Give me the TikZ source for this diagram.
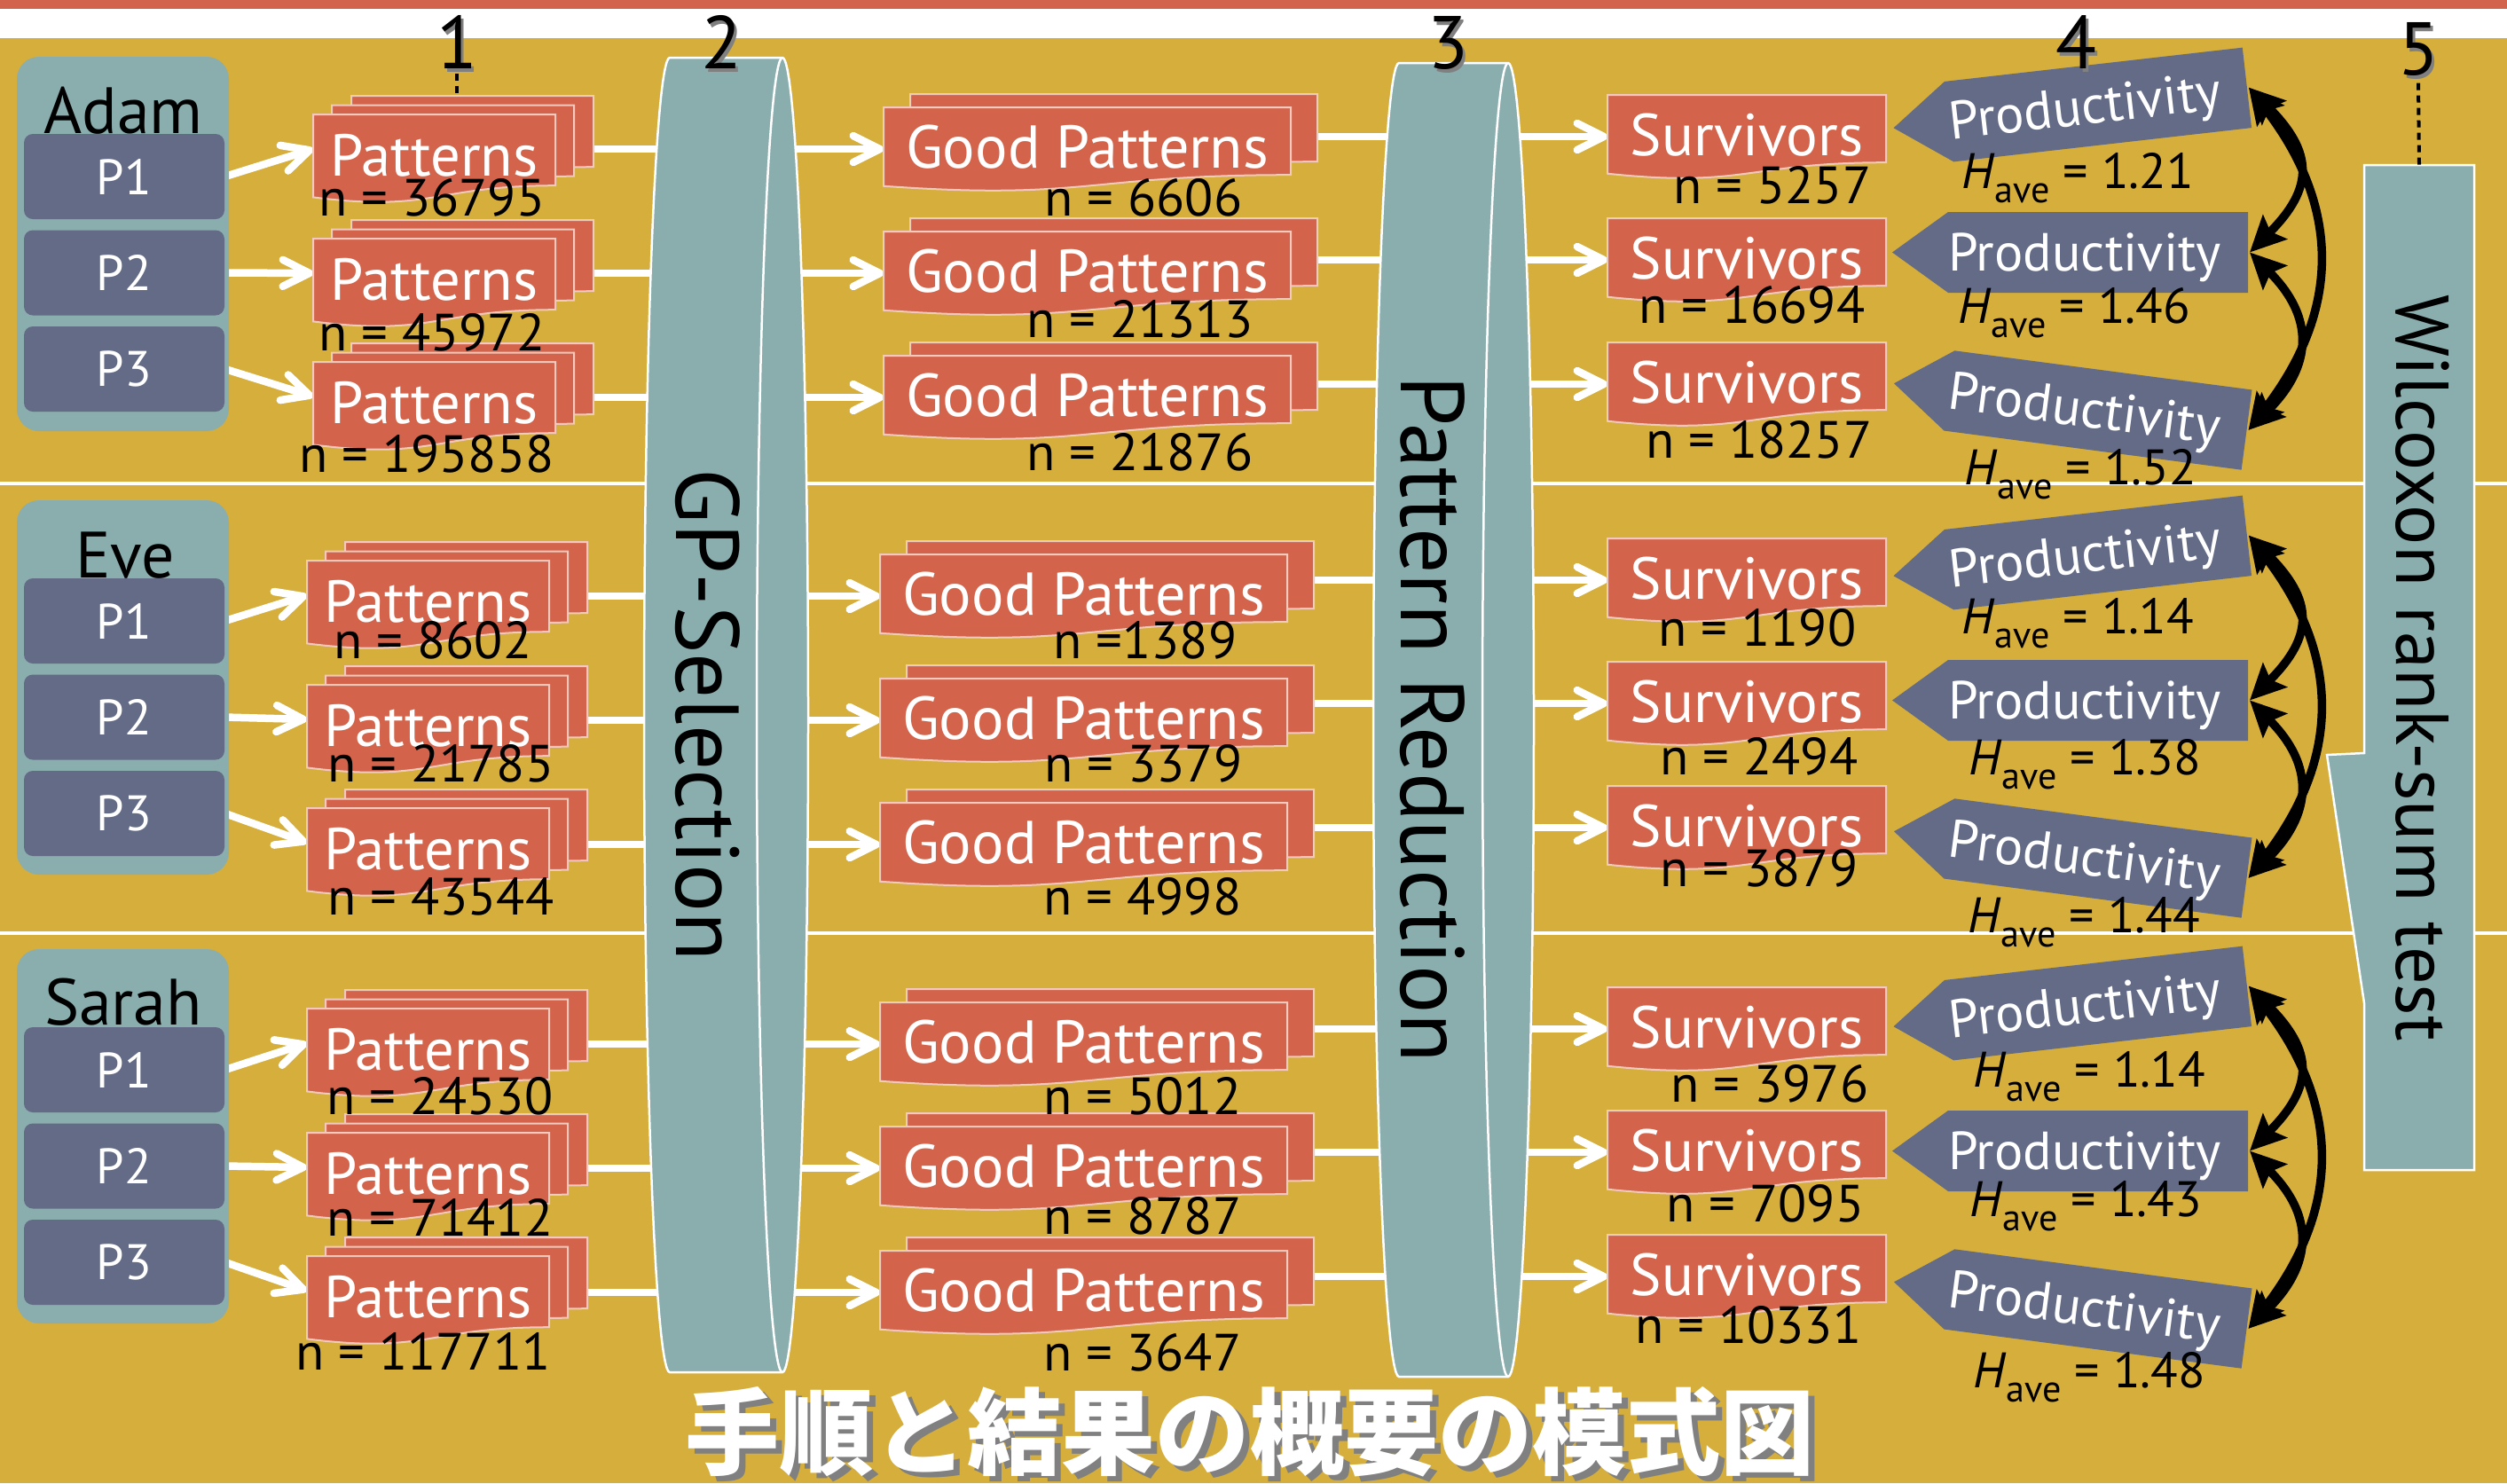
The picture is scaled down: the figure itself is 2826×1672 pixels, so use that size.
\documentclass[tikz,border=0pt]{standalone}
\usepackage{fontspec}
\setmainfont{PT Sans}
\newfontfamily\cjkfont{Noto Sans CJK JP}
\usetikzlibrary{arrows.meta}
\definecolor{gold}{HTML}{D5AE3B}
\definecolor{rust}{HTML}{D3644B}
\definecolor{tealc}{HTML}{8AADAE}
\definecolor{slate}{HTML}{636B86}
\definecolor{docline}{HTML}{F2C9BD}
\definecolor{topred}{HTML}{D2644C}
\definecolor{shade}{HTML}{808080}
\pgfdeclarelayer{bg}
\pgfdeclarelayer{conn}
\pgfsetlayers{bg,conn,main}

\newcommand\docshape[4]{\filldraw[docsty] ({#1},{#2}) -- ({#1+#3},{#2}) -- ({#1+#3},{#2+0.802*#4}) .. controls ({#1+0.5*#3},{#2+0.802*#4}) and ({#1+0.5*#3},{#2+1.107*#4}) .. ({#1},{#2+0.934*#4}) -- cycle;}

\newcommand\PatStack[3]{%
  \docshape{#2+43}{#3-21}{273}{100}%
  \docshape{#2+21}{#3-10.5}{273}{100}%
  \docshape{#2}{#3}{273}{100}%
  \node[lab] (#1) at ({#2+136.5},{#3+69}) {Patterns};%
  \coordinate (#1-in) at ({#2},{#3+39});%
  \coordinate (#1-out) at ({#2+316},{#3+39});%
  \coordinate (#1-top) at ({#2+162},{#3-21});}

\newcommand\GPStack[3]{%
  \docshape{#2+30}{#3-15}{459}{95}%
  \docshape{#2}{#3}{459}{95}%
  \node[lab,font=\fontsize{19.4}{22}\selectfont] (#1) at ({#2+229.5},{#3+68}) {Good Patterns};%
  \coordinate (#1-in) at ({#2},{#3+47});%
  \coordinate (#1-out) at ({#2+489},{#3+33});}

\newcommand\SurvBox[3]{%
  \docshape{#2}{#3}{314}{95}%
  \node[lab] (#1) at ({#2+157},{#3+68}) {Survivors};%
  \coordinate (#1-in) at ({#2},{#3+47});}

\newcommand\ProdArrow[4]{%
  \begin{scope}[shift={(#2,#3)},rotate=#4]
    \fill[slate] (-232,0) -- (-169,-45.5) -- (169,-45.5) -- (169,45.5) -- (-169,45.5) -- cycle;
    \node[plab,transform shape] (#1) at (-15,20.5) {Productivity};
    \coordinate (#1-r) at (171,0);
  \end{scope}}

\newcommand\Have[1]{\textit{H}\raisebox{-0.3em}{\fontsize{12}{12}\selectfont ave} = #1}

\begin{document}
\begin{tikzpicture}[x=0.1mm,y=-0.1mm,
  docsty/.style={fill=rust,draw=docline,line width=0.2mm},
  lab/.style={font=\fontsize{19}{22}\selectfont,text=white,anchor=base,inner sep=0pt},
  nlab/.style={font=\fontsize{16.8}{20}\selectfont,anchor=base,inner sep=0pt},
  hlab/.style={font=\fontsize{16}{19}\selectfont,anchor=base,inner sep=0pt},
  plab/.style={font=\fontsize{17.2}{20}\selectfont,text=white,anchor=base,inner sep=0pt},
  grp/.style={font=\fontsize{21}{24}\selectfont,anchor=base,inner sep=0pt},
  pbox/.style={fill=slate,rounded corners=1mm,minimum width=22.6mm,minimum height=9.6mm,inner sep=0pt,text=white,font=\fontsize{16}{19}\selectfont},
  num/.style={font=\fontsize{24}{28}\selectfont,anchor=base,inner sep=0pt},
  numsh/.style={num,text=shade},
  warrow/.style={draw=white,line width=0.85mm,-{Straight Barb[length=3mm,width=3mm,round]}},
  barrow/.style={draw=black,line width=0.95mm,{Stealth[length=4mm,width=3.8mm,inset=0.7mm]}-{Stealth[length=4mm,width=3.8mm,inset=0.7mm]}},
  cyl/.style={fill=tealc,draw=white,line width=0.25mm},
  vlab/.style={rotate=-90,anchor=base,inner sep=0pt},
  guide/.style={draw=black,line width=0.4mm,dash pattern=on 0.8mm off 0.6mm},
  ttl/.style={font=\cjkfont\bfseries\fontsize{30.2}{34}\selectfont,anchor=base,inner sep=0pt}]
\useasboundingbox (0,0) rectangle (2826,1672);
\begin{pgfonlayer}{bg}
  \fill[gold] (0,43) rectangle (2826,1672);
  \fill[white] (0,10) rectangle (2826,43);
  \fill[topred] (0,0) rectangle (2826,10);
  \draw[white,line width=0.35mm] (0,545) -- (2826,545);
  \draw[white,line width=0.35mm] (0,1052) -- (2826,1052);
\end{pgfonlayer}

% participant groups
\fill[tealc,rounded corners=2.5mm] (19,64) rectangle (258,486);
\node[grp] (adam) at (139,150) {Adam};
\node[pbox] (a-p1) at (140,199) {P1};
\node[pbox] (a-p2) at (140,307.5) {P2};
\node[pbox] (a-p3) at (140,416) {P3};
\fill[tealc,rounded corners=2.5mm] (19,564) rectangle (258,986);
\node[grp] (eve) at (141,651) {Eve};
\node[pbox] (e-p1) at (140,700) {P1};
\node[pbox] (e-p2) at (140,808.5) {P2};
\node[pbox] (e-p3) at (140,917) {P3};
\fill[tealc,rounded corners=2.5mm] (19,1070) rectangle (258,1492);
\node[grp] (sarah) at (139,1155) {Sarah};
\node[pbox] (s-p1) at (140,1206) {P1};
\node[pbox] (s-p2) at (140,1314.5) {P2};
\node[pbox] (s-p3) at (140,1423) {P3};

% pattern stacks
\PatStack{a-pt1}{353}{129}\PatStack{a-pt2}{353}{269}\PatStack{a-pt3}{353}{408}
\PatStack{e-pt1}{346}{632}\PatStack{e-pt2}{346}{772}\PatStack{e-pt3}{346}{911}
\PatStack{s-pt1}{346}{1137}\PatStack{s-pt2}{346}{1277}\PatStack{s-pt3}{346}{1416}

% good patterns
\GPStack{a-gp1}{996}{121}\GPStack{a-gp2}{996}{261}\GPStack{a-gp3}{996}{401}
\GPStack{e-gp1}{992}{625}\GPStack{e-gp2}{992}{765}\GPStack{e-gp3}{992}{905}
\GPStack{s-gp1}{992}{1130}\GPStack{s-gp2}{992}{1270}\GPStack{s-gp3}{992}{1410}

% survivors
\SurvBox{a-sv1}{1812}{107}\SurvBox{a-sv2}{1812}{246}\SurvBox{a-sv3}{1812}{386}
\SurvBox{e-sv1}{1812}{607}\SurvBox{e-sv2}{1812}{746}\SurvBox{e-sv3}{1812}{886}
\SurvBox{s-sv1}{1812}{1113}\SurvBox{s-sv2}{1812}{1252}\SurvBox{s-sv3}{1812}{1392}

% productivity
\ProdArrow{a-pr1}{2365}{118}{6.5}\ProdArrow{a-pr2}{2365}{284.5}{0}\ProdArrow{a-pr3}{2365}{462.5}{-7.5}
\ProdArrow{e-pr1}{2365}{623}{6.5}\ProdArrow{e-pr2}{2365}{789.5}{0}\ProdArrow{e-pr3}{2365}{967.5}{-7.5}
\ProdArrow{s-pr1}{2365}{1131}{6.5}\ProdArrow{s-pr2}{2365}{1297.5}{0}\ProdArrow{s-pr3}{2365}{1475.5}{-7.5}

% white connectors
\begin{pgfonlayer}{conn}
\foreach \g in {a,e,s}{\foreach \i in {1,2,3}{
  \draw[warrow] (\g-p\i.east) -- (\g-pt\i-in);
  \draw[warrow] (\g-pt\i-out |- \g-gp\i-in) -- (\g-gp\i-in);
  \draw[warrow] (\g-gp\i-out |- \g-sv\i-in) -- (\g-sv\i-in);
}}
\end{pgfonlayer}

% cylinders
\filldraw[cyl] (755,65) -- (882,65) .. controls (898,65) and (911,396.7) .. (911,806) .. controls (911,1215.3) and (898,1547) .. (882,1547) -- (755,1547) .. controls (739,1547) and (726,1215.3) .. (726,806) .. controls (726,396.7) and (739,65) .. (755,65) -- cycle;
\draw[white,line width=0.25mm] (882,65) .. controls (866,65) and (853,396.7) .. (853,806) .. controls (853,1215.3) and (866,1547) .. (882,1547);
\node[vlab,font=\fontsize{28.7}{32}\selectfont] (gpsel) at (762,806) {GP-Selection};

\filldraw[cyl] (1577,71) -- (1700,71) .. controls (1716,71) and (1729,402.5) .. (1729,811.5) .. controls (1729,1220.5) and (1716,1552) .. (1700,1552) -- (1577,1552) .. controls (1561,1552) and (1548,1220.5) .. (1548,811.5) .. controls (1548,402.5) and (1561,71) .. (1577,71) -- cycle;
\draw[white,line width=0.25mm] (1700,71) .. controls (1684,71) and (1671,402.5) .. (1671,811.5) .. controls (1671,1220.5) and (1684,1552) .. (1700,1552);
\node[vlab,font=\fontsize{28.9}{32}\selectfont] (patred) at (1579,811) {Pattern Reduction};

% Wilcoxon box
\filldraw[fill=tealc,draw=white,line width=0.25mm] (2665,186) -- (2789,186) -- (2789,1319) -- (2665,1319) -- (2665,1131) -- (2623,851) -- (2665,849) -- cycle;
\node[vlab,font=\fontsize{24}{27}\selectfont] (wil) at (2701,753) {Wilcoxon rank-sum test};
\coordinate (wtop) at (2727,186);

% comparison arcs
\foreach \g in {a,e,s}{
  \draw[barrow] (\g-pr1-r) .. controls +(73,73) and +(73,-73) .. (\g-pr2-r);
  \draw[barrow] (\g-pr2-r) .. controls +(73,73) and +(73,-73) .. (\g-pr3-r);
  \draw[barrow] (\g-pr1-r) .. controls +(104,135) and +(104,-135) .. (\g-pr3-r);
}

% n labels
\node[nlab] (a-n1) at (487,243) {n = 36795};
\node[nlab] (a-n2) at (487,395) {n = 45972};
\node[nlab] (a-n3) at (481,532) {n = 195858};
\node[nlab] (e-n1) at (488,742) {n = 8602};
\node[nlab] (e-n2) at (497,881) {n = 21785};
\node[nlab] (e-n3) at (497,1031) {n = 43544};
\node[nlab] (s-n1) at (496,1256) {n = 24530};
\node[nlab] (s-n2) at (496,1393) {n = 71412};
\node[nlab] (s-n3) at (477,1544) {n = 117711};

\node[nlab] (a-g1) at (1289,243) {n = 6606};
\node[nlab] (a-g2) at (1285,380) {n = 21313};
\node[nlab] (a-g3) at (1285,530) {n = 21876};
\node[nlab] (e-g1) at (1291,742) {n =1389};
\node[nlab] (e-g2) at (1289,881) {n = 3379};
\node[nlab] (e-g3) at (1288,1031) {n = 4998};
\node[nlab] (s-g1) at (1288,1256) {n = 5012};
\node[nlab] (s-g2) at (1288,1391) {n = 8787};
\node[nlab] (s-g3) at (1288,1545) {n = 3647};

\node[nlab] (a-s1) at (1998,229) {n = 5257};
\node[nlab] (a-s2) at (1975,364) {n = 16694};
\node[nlab] (a-s3) at (1983,516) {n = 18257};
\node[nlab] (e-s1) at (1981,728) {n = 1190};
\node[nlab] (e-s2) at (1983,873) {n = 2494};
\node[nlab] (e-s3) at (1983,999) {n = 3879};
\node[nlab] (s-s1) at (1995,1242) {n = 3976};
\node[nlab] (s-s2) at (1990,1377) {n = 7095};
\node[nlab] (s-s3) at (1971,1514) {n = 10331};

\node[hlab] (a-h1) at (2342,212) {\Have{1.21}};
\node[hlab] (a-h2) at (2338,364) {\Have{1.46}};
\node[hlab] (a-h3) at (2345,546) {\Have{1.52}};
\node[hlab] (e-h1) at (2342,714) {\Have{1.14}};
\node[hlab] (e-h2) at (2350,873) {\Have{1.38}};
\node[hlab] (e-h3) at (2349,1051) {\Have{1.44}};
\node[hlab] (s-h1) at (2355,1225) {\Have{1.14}};
\node[hlab] (s-h2) at (2351,1371) {\Have{1.43}};
\node[hlab] (s-h3) at (2355,1564) {\Have{1.48}};

% step numbers
\node[numsh] (n1s) at (518,81) {1};
\node[num] (n1) at (515,77) {1};
\node[numsh] (n2s) at (816,81) {2};
\node[num] (n2) at (813,77) {2};
\node[numsh] (n3s) at (1635,81) {3};
\node[num] (n3) at (1632,77) {3};
\node[numsh] (n4s) at (2343,81) {4};
\node[num] (n4) at (2340,77) {4};
\node[numsh] (n5s) at (2729,88) {5};
\node[num] (n5) at (2726,84) {5};
\draw[guide] ([yshift=-0.5mm]n1.south) -- (a-pt1-top -| n1.south);
\draw[guide] ([yshift=-0.8mm]n5.south) -- (wtop);

% title
\node[ttl,text=shade] (titlesh) at (1416,1660) {手順と結果の概要の模式図};
\node[ttl,text=white] (title) at (1409,1654) {手順と結果の概要の模式図};
\end{tikzpicture}
\end{document}
